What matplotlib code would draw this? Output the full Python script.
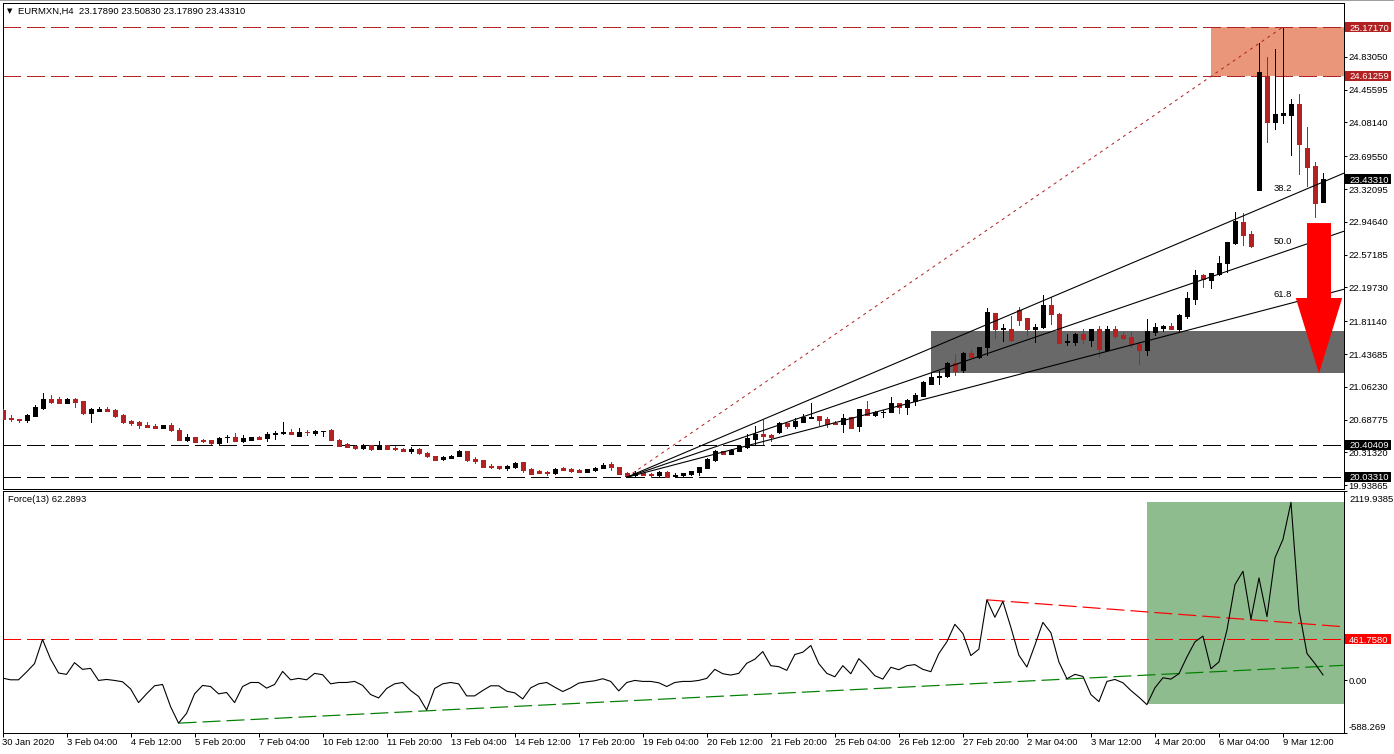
"""
EURMXN H4 chart with Force(13) pane, drawn like the MT4 screenshot.
"""
import numpy as np
import matplotlib
matplotlib.use("Agg")
import matplotlib.pyplot as plt
from matplotlib.patches import Polygon, Rectangle

plt.rcParams["font.family"] = ["Liberation Sans", "DejaVu Sans"]

# candles, one row per 10 bars
opens = [
    20.798, 20.703, 20.700, 20.684, 20.730, 20.821, 20.920, 20.920, 20.878, 20.920,
    20.897, 20.764, 20.787, 20.806, 20.795, 20.738, 20.669, 20.658, 20.631, 20.612,
    20.593, 20.631, 20.574, 20.453, 20.487, 20.453, 20.453, 20.422, 20.487, 20.487,
    20.441, 20.456, 20.487, 20.479, 20.529, 20.536, 20.544, 20.502, 20.551, 20.532,
    20.559, 20.567, 20.460, 20.407, 20.384, 20.361, 20.396, 20.354, 20.396, 20.365,
    20.358, 20.327, 20.358, 20.312, 20.278, 20.244, 20.251, 20.274, 20.327, 20.240,
    20.225, 20.160, 20.156, 20.141, 20.145, 20.202, 20.122, 20.099, 20.095, 20.080,
    20.133, 20.122, 20.111, 20.092, 20.114, 20.137, 20.179, 20.152, 20.076, 20.054,
    20.073, 20.065, 20.054, 20.095, 20.046, 20.061, 20.069, 20.092, 20.133, 20.225,
    20.331, 20.297, 20.331, 20.377, 20.464, 20.521, 20.510, 20.544, 20.646, 20.612,
    20.662, 20.707, 20.726, 20.692, 20.650, 20.635, 20.722, 20.616, 20.806, 20.741,
    20.772, 20.776, 20.874, 20.836, 20.901, 20.962, 21.098, 21.174, 21.182, 21.330,
    21.250, 21.452, 21.406, 21.513, 21.908, 21.718, 21.725, 21.942, 21.851, 21.718,
    21.741, 21.999, 21.896, 21.573, 21.577, 21.668, 21.600, 21.725, 21.482, 21.722,
    21.657, 21.634, 21.554, 21.486, 21.691, 21.737, 21.760, 21.725, 21.874, 22.067,
    22.341, 22.288, 22.352, 22.478, 22.706, 22.945, 22.808, 23.311, 24.608, 24.087,
    24.171, 24.167, 24.293, 23.790, 23.585, 23.1789,
]
highs = [
    20.814, 20.738, 20.700, 20.749, 20.852, 20.988, 20.966, 20.950, 20.931, 20.931,
    20.905, 20.817, 20.829, 20.836, 20.806, 20.749, 20.688, 20.669, 20.658, 20.635,
    20.631, 20.654, 20.597, 20.521, 20.494, 20.464, 20.453, 20.494, 20.510, 20.532,
    20.510, 20.494, 20.498, 20.544, 20.555, 20.658, 20.578, 20.589, 20.567, 20.567,
    20.563, 20.578, 20.472, 20.418, 20.399, 20.407, 20.399, 20.441, 20.399, 20.384,
    20.361, 20.373, 20.361, 20.323, 20.278, 20.274, 20.289, 20.342, 20.335, 20.266,
    20.225, 20.183, 20.160, 20.171, 20.202, 20.202, 20.137, 20.114, 20.099, 20.133,
    20.152, 20.141, 20.122, 20.122, 20.145, 20.190, 20.202, 20.152, 20.088, 20.099,
    20.084, 20.080, 20.099, 20.099, 20.073, 20.084, 20.107, 20.152, 20.255, 20.342,
    20.331, 20.350, 20.403, 20.529, 20.620, 20.681, 20.521, 20.665, 20.654, 20.703,
    20.757, 20.874, 20.726, 20.715, 20.669, 20.749, 20.722, 20.814, 20.897, 20.791,
    20.798, 20.943, 20.882, 20.920, 20.988, 21.125, 21.220, 21.239, 21.342, 21.440,
    21.459, 21.478, 21.520, 21.965, 21.908, 21.782, 21.874, 21.972, 21.851, 21.782,
    22.109, 22.086, 21.908, 21.668, 21.680, 21.725, 21.725, 21.760, 21.760, 21.760,
    21.691, 21.691, 21.577, 21.839, 21.794, 21.771, 21.794, 21.896, 22.147, 22.398,
    22.352, 22.364, 22.558, 22.717, 23.059, 23.048, 22.843, 24.985, 24.833, 24.921,
    25.160, 24.350, 24.407, 24.030, 23.630, 23.5083,
]
lows = [
    20.700, 20.673, 20.662, 20.662, 20.730, 20.806, 20.874, 20.878, 20.878, 20.833,
    20.749, 20.662, 20.787, 20.787, 20.719, 20.650, 20.627, 20.593, 20.605, 20.593,
    20.593, 20.559, 20.456, 20.441, 20.434, 20.434, 20.415, 20.407, 20.434, 20.445,
    20.434, 20.456, 20.468, 20.445, 20.468, 20.521, 20.525, 20.498, 20.517, 20.517,
    20.502, 20.456, 20.384, 20.373, 20.354, 20.354, 20.339, 20.350, 20.354, 20.339,
    20.327, 20.308, 20.297, 20.259, 20.225, 20.228, 20.251, 20.274, 20.213, 20.194,
    20.145, 20.133, 20.122, 20.114, 20.137, 20.095, 20.065, 20.076, 20.061, 20.065,
    20.111, 20.088, 20.088, 20.092, 20.099, 20.137, 20.114, 20.065, 20.038, 20.035,
    20.054, 20.038, 20.038, 20.038, 20.031, 20.046, 20.061, 20.054, 20.133, 20.213,
    20.293, 20.297, 20.327, 20.369, 20.407, 20.407, 20.445, 20.536, 20.589, 20.589,
    20.662, 20.707, 20.631, 20.601, 20.635, 20.548, 20.589, 20.555, 20.745, 20.730,
    20.715, 20.776, 20.760, 20.749, 20.852, 20.954, 21.095, 21.095, 21.174, 21.201,
    21.228, 21.406, 21.387, 21.425, 21.615, 21.581, 21.589, 21.771, 21.638, 21.577,
    21.737, 21.782, 21.558, 21.539, 21.543, 21.566, 21.532, 21.406, 21.475, 21.623,
    21.611, 21.520, 21.326, 21.429, 21.657, 21.703, 21.718, 21.684, 21.851, 22.010,
    22.204, 22.193, 22.341, 22.379, 22.694, 22.683, 22.660, 23.311, 23.859, 24.007,
    24.076, 23.710, 23.493, 23.356, 23.002, 23.1789,
]
closes = [
    20.700, 20.696, 20.681, 20.738, 20.829, 20.920, 20.886, 20.878, 20.920, 20.890,
    20.760, 20.806, 20.806, 20.787, 20.730, 20.658, 20.646, 20.627, 20.605, 20.593,
    20.631, 20.570, 20.456, 20.487, 20.434, 20.441, 20.422, 20.483, 20.494, 20.445,
    20.483, 20.487, 20.472, 20.521, 20.536, 20.544, 20.525, 20.544, 20.544, 20.563,
    20.563, 20.456, 20.388, 20.377, 20.365, 20.396, 20.350, 20.396, 20.354, 20.354,
    20.327, 20.358, 20.308, 20.270, 20.228, 20.259, 20.278, 20.327, 20.225, 20.217,
    20.145, 20.149, 20.137, 20.156, 20.198, 20.111, 20.065, 20.080, 20.076, 20.130,
    20.114, 20.103, 20.095, 20.122, 20.141, 20.175, 20.152, 20.065, 20.046, 20.084,
    20.057, 20.057, 20.095, 20.038, 20.054, 20.076, 20.099, 20.145, 20.236, 20.327,
    20.297, 20.342, 20.392, 20.475, 20.521, 20.498, 20.487, 20.646, 20.612, 20.669,
    20.715, 20.722, 20.681, 20.643, 20.635, 20.711, 20.597, 20.806, 20.745, 20.779,
    20.779, 20.874, 20.829, 20.909, 20.966, 21.114, 21.178, 21.190, 21.334, 21.247,
    21.452, 21.406, 21.520, 21.919, 21.718, 21.729, 21.600, 21.828, 21.718, 21.748,
    21.999, 21.889, 21.566, 21.589, 21.668, 21.604, 21.725, 21.490, 21.725, 21.646,
    21.623, 21.547, 21.486, 21.703, 21.748, 21.760, 21.725, 21.885, 22.079, 22.341,
    22.292, 22.364, 22.478, 22.717, 22.957, 22.797, 22.672, 24.658, 24.087, 24.178,
    24.186, 24.293, 23.836, 23.573, 23.162, 23.4331,
]

# Force(13) pane
force = [
    26, 7, 7, 94, 188, 459, 241, 83, 68, 199,
    124, 135, 0, 11, 0, -15, -94, -248, -150, -60,
    -45, -293, -478, -369, -150, -56, -68, -150, -135, -248,
    -68, -23, -23, -86, -45, 101, 7, 23, 7, 79,
    64, -38, -23, -23, -11, -56, -158, -196, -90, -38,
    -23, -113, -180, -331, -90, -38, -23, -38, -173, -173,
    -113, -60, -60, -120, -139, -207, -83, -38, -23, -75,
    -124, -83, -30, -15, -4, 19, -11, -117, -23, 0,
    -11, -11, -26, -68, -23, -11, -11, 0, 23, 124,
    75, 60, 79, 192, 237, 323, 165, 154, 113, 290,
    316, 391, 188, 79, 41, 165, 75, 244, 154, 53,
    15, 147, 120, 165, 177, 124, 98, 301, 432, 628,
    526, 278, 350, 902, 707, 884, 594, 282, 150, 395,
    650, 534, 207, 19, 68, 45, -158, -237, -11, 11,
    -26, -113, -188, -271, -83, 30, 15, 75, 263, 432,
    496, 131, 207, 564, 1072, 1222, 684, 1147, 714, 1372,
    1579, 1993, 789, 301, 188, 62.2893,
]

time_labels = [
    "30 Jan 2020", "3 Feb 04:00", "4 Feb 12:00", "5 Feb 20:00", "7 Feb 04:00",
    "10 Feb 12:00", "11 Feb 20:00", "13 Feb 04:00", "14 Feb 12:00", "17 Feb 20:00",
    "19 Feb 04:00", "20 Feb 12:00", "21 Feb 20:00", "25 Feb 04:00", "26 Feb 12:00",
    "27 Feb 20:00", "2 Mar 04:00", "3 Mar 12:00", "4 Mar 20:00", "6 Mar 04:00",
    "9 Mar 12:00",
]
price_ticks = ["24.83050", "24.45595", "24.08140", "23.69550", "23.32095", "22.94640",
               "22.57185", "22.19730", "21.81140", "21.43685", "21.06230", "20.68775",
               "20.31320", "19.93865"]
resistance = [25.17170, 24.61259]
support = [20.40409, 20.03310]
fib_levels = [38.2, 50.0, 61.8]
last_price = 23.43310
force_level = 461.7580
force_top, force_bottom = 2119.9385, -588.269

W, H = 1394, 754
PX = 1 / 100 * 72  # one pixel in points
BAR_PX = 8
RED = "#B22222"
DASH = (0, (18, 6))
FS = 6.8

fig = plt.figure(figsize=(W / 100, H / 100), dpi=100, facecolor="white")
# thin grey strip along the top of the window
fig.add_artist(Rectangle((0, 1 - 1 / H), 1, 1 / H, transform=fig.transFigure,
                         fc="#A0A0A0", ec="none"))


def pane(left, top, right, bottom):
    ax = fig.add_axes([left / W, 1 - bottom / H, (right - left) / W, (bottom - top) / H])
    for s in ax.spines.values():
        s.set_linewidth(PX)
    ax.yaxis.tick_right()
    ax.set_xlim(0, (right - 3) / BAR_PX)
    return ax


def side_label(ax, value, text, color="black", bg=None, dy=0):
    # text in the right margin, badge sits over any plain tick label
    y = ax.transData.transform((0, value))[1] + dy
    if bg is not None:
        fig.add_artist(Rectangle((1345 / W, (y - 5) / H), 46 / W, 10 / H,
                                 transform=fig.transFigure, fc=bg, ec="none", zorder=5))
    fig.text(1349 / W, y / H, text, color=color, fontsize=FS, va="center_baseline",
             ha="left", zorder=6)


x = np.arange(len(opens))
o, h, l, c = map(np.array, (opens, highs, lows, closes))

# price pane
ax = pane(2.5, 3, 1343.5, 489)
ax.set_ylim(19.896, 25.4458)

ax.add_patch(Rectangle((151, resistance[1]), 20, resistance[0] - resistance[1],
                       fc="#E9967A", ec="none", zorder=1))
ax.add_patch(Rectangle((116, 21.216), 60, 21.703 - 21.216, fc="#696969", ec="none", zorder=1))

for level in resistance:
    ax.axhline(level, color=RED, lw=PX, ls=DASH, antialiased=False, zorder=2)
for level in support:
    ax.axhline(level, color="black", lw=PX, ls=DASH, antialiased=False, zorder=2)

colors = np.where(c >= o, "black", RED)
ax.vlines(x, l, h, colors=colors, lw=PX, zorder=3, antialiased=False)
ax.bar(x, np.abs(c - o), bottom=np.minimum(o, c), width=4 / BAR_PX, color=colors,
       edgecolor=colors, lw=PX, zorder=3, antialiased=False)

# fibonacci fan out of the swing low
i0, p0, i1, p1 = 78, 20.03, 160, resistance[0]
ax.plot([i0, i1], [p0, p1], color=RED, lw=PX, ls=(0, (3, 4)), zorder=4)
x_end = ax.get_xlim()[1]
for lvl in fib_levels:
    p_mid = p1 - (p1 - p0) * lvl / 100
    p_end = p0 + (p_mid - p0) * (x_end - i0) / (i1 - i0)
    ax.plot([i0, x_end], [p0, p_end], color="black", lw=1.1 * PX, zorder=4)
    ax.annotate(f"{lvl:.1f}", xy=(i1, p_mid), xytext=(0, 11), textcoords="offset pixels",
                ha="center", va="center", fontsize=FS, zorder=6)

# big red arrow
ax.add_patch(Polygon([(163, 22.933), (166, 22.933), (166, 22.077), (167.4, 22.077),
                      (164.5, 21.216), (161.6, 22.077), (163, 22.077)],
                     closed=True, fc="#FF0000", ec="none", zorder=5))

ax.set_xticks([])
ax.set_yticks([float(t) for t in price_ticks] + resistance + support + [last_price],
              labels=price_ticks + [""] * 5)
ax.tick_params(axis="y", length=3 * PX, width=PX, pad=1.5, labelsize=FS)
for level in resistance:
    side_label(ax, level, f"{level:.5f}", color="white", bg=RED)
for level in support:
    side_label(ax, level, f"{level:.5f}", color="white", bg="black")
side_label(ax, last_price, f"{last_price:.5f}", color="white", bg="black")

fig.text(7 / W, 1 - 11 / H, "\u25bc", fontsize=5, family="DejaVu Sans", va="center")
fig.text(18 / W, 1 - 11 / H, "EURMXN,H4  23.17890 23.50830 23.17890 23.43310",
         fontsize=FS, va="center")

# force pane
fx = pane(2.5, 491, 1343.5, 733)
fx.set_ylim(force_bottom, force_top)
fx.add_patch(Rectangle((143, -267), 30, 2000 + 267, fc="#8FBC8F", ec="none", zorder=1))
fx.axhline(force_level, color="#FF0000", lw=PX, ls=DASH, antialiased=False, zorder=2)

x_end = fx.get_xlim()[1]
fx.plot([123, x_end], [force[123], 601], color="#FF0000", lw=1.2 * PX, ls=(0, (15, 5)), zorder=2)
fx.plot([22, x_end], [force[22], 169], color="#008000", lw=1.2 * PX, ls=(0, (15, 5)), zorder=2)
fx.plot(x, force, color="black", lw=1.1 * PX, zorder=3)

fx.set_xticks(np.arange(len(time_labels)) * 8, labels=time_labels, ha="left")
fx.tick_params(axis="x", length=4 * PX, width=PX, pad=1, labelsize=FS)
fx.set_yticks([force_bottom, 0, force_level, force_top], labels=[""] * 4)
fx.tick_params(axis="y", length=3 * PX, width=PX)
side_label(fx, force_top, f"{force_top:.4f}", dy=-7)
side_label(fx, 0, "0.00")
side_label(fx, force_bottom, f"{force_bottom:.3f}", dy=6)
side_label(fx, force_level, f"{force_level:.4f}", color="white", bg="#FF0000")

fig.text(8 / W, 1 - 500 / H, "Force(13) 62.2893", fontsize=FS, va="center")

fig.savefig("out.png", dpi=100)
